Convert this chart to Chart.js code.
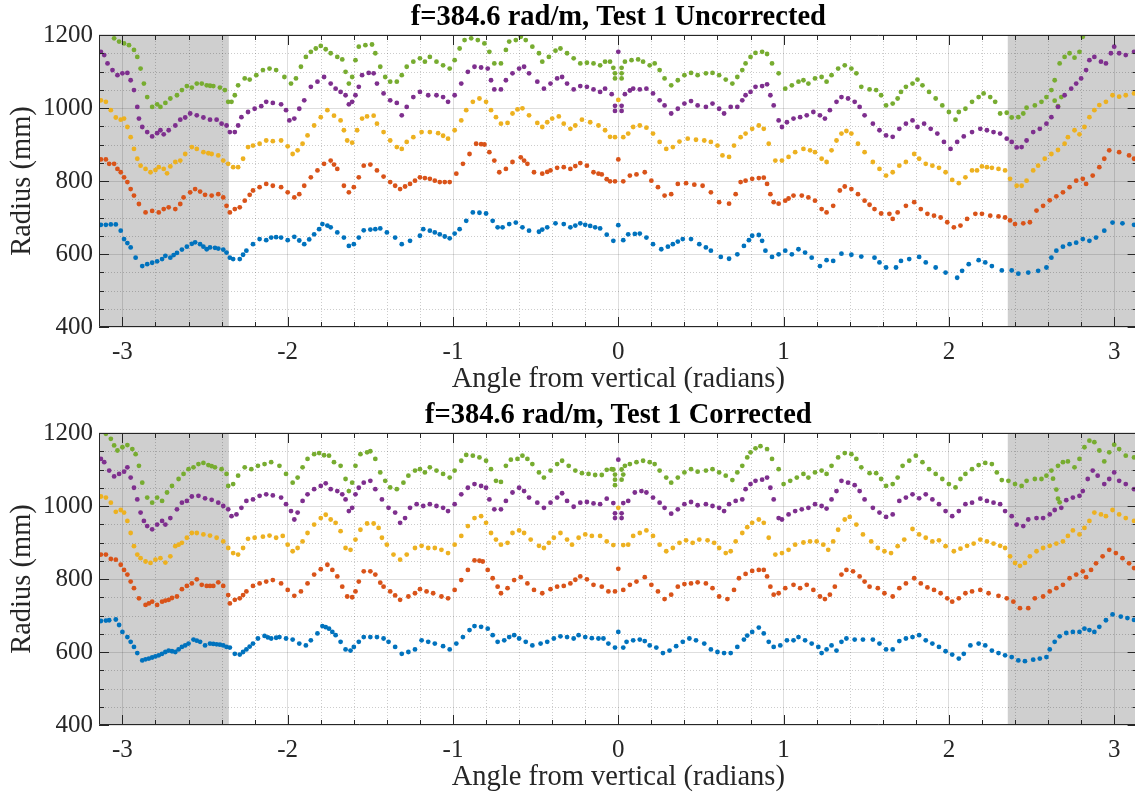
<!DOCTYPE html>
<html>
<head>
<meta charset="utf-8">
<script src="https://cdn.jsdelivr.net/npm/chart.js@4.4.1/dist/chart.umd.min.js"></script>
<style>
  html, body { margin: 0; background: #fff; overflow: hidden; width: 1135px; height: 796px; }
  .panel { position: absolute; left: 0; width: 1140px; height: 398px; }
</style>
</head>
<body>
<div class="panel" style="top:0"><canvas id="upper"></canvas></div>
<div class="panel" style="top:398px"><canvas id="lower"></canvas></div>
<script>
// angle (rad), radius (mm) pairs
const upperBlue = [[-3.13,680],[-3.10,680],[-3.07,681],[-3.04,681],[-3.01,664],[-2.99,641],[-2.97,630],[-2.95,618],[-2.92,590],[-2.88,567],[-2.85,572],[-2.82,576],[-2.79,580],[-2.76,586],[-2.74,595],[-2.71,590],[-2.69,597],[-2.67,603],[-2.64,612],[-2.61,620],[-2.58,628],[-2.56,632],[-2.53,627],[-2.51,620],[-2.49,613],[-2.47,618],[-2.44,617],[-2.42,615],[-2.39,612],[-2.37,604],[-2.35,590],[-2.33,586],[-2.29,586],[-2.27,598],[-2.25,609],[-2.21,627],[-2.17,641],[-2.13,638],[-2.10,645],[-2.07,646],[-2.04,645],[-2.00,638],[-1.96,647],[-1.93,637],[-1.90,627],[-1.87,640],[-1.84,654],[-1.81,668],[-1.79,682],[-1.76,678],[-1.74,673],[-1.70,659],[-1.66,645],[-1.63,622],[-1.60,627],[-1.57,645],[-1.54,665],[-1.50,667],[-1.47,668],[-1.44,670],[-1.40,659],[-1.35,645],[-1.31,627],[-1.26,636],[-1.20,650],[-1.18,668],[-1.14,664],[-1.11,659],[-1.08,654],[-1.05,648],[-1.02,643],[-0.99,656],[-0.96,668],[-0.92,691],[-0.88,714],[-0.84,713],[-0.80,711],[-0.76,691],[-0.73,673],[-0.70,673],[-0.66,682],[-0.62,686],[-0.58,673],[-0.54,664],[-0.48,661],[-0.46,667],[-0.43,673],[-0.38,684],[-0.33,682],[-0.29,673],[-0.26,678],[-0.23,684],[-0.20,680],[-0.17,677],[-0.14,673],[-0.11,670],[-0.07,653],[-0.03,636],[0,679],[0.03,638],[0.06,654],[0.10,655],[0.13,656],[0.17,645],[0.21,627],[0.26,613],[0.30,620],[0.33,627],[0.36,634],[0.39,641],[0.44,641],[0.49,627],[0.53,618],[0.56,609],[0.62,592],[0.67,587],[0.72,599],[0.76,622],[0.79,638],[0.81,650],[0.85,652],[0.87,636],[0.89,609],[0.93,592],[0.97,599],[1.01,609],[1.05,599],[1.09,613],[1.13,604],[1.17,590],[1.22,567],[1.26,583],[1.30,581],[1.35,601],[1.41,598],[1.47,593],[1.55,590],[1.58,577],[1.62,563],[1.68,563],[1.71,581],[1.76,586],[1.82,592],[1.86,577],[1.92,563],[1.98,549],[2.05,535],[2.08,554],[2.12,572],[2.18,583],[2.22,577],[2.26,567],[2.32,555],[2.38,555],[2.42,546],[2.48,549],[2.54,554],[2.59,563],[2.62,590],[2.65,609],[2.69,620],[2.73,627],[2.77,631],[2.81,641],[2.85,636],[2.89,645],[2.94,664],[2.99,686],[3.05,684],[3.12,680]];
const upperRed = [[-3.13,859],[-3.10,859],[-3.08,847],[-3.05,847],[-3.03,833],[-3.01,824],[-2.99,810],[-2.97,797],[-2.95,778],[-2.93,760],[-2.90,737],[-2.86,714],[-2.82,718],[-2.78,714],[-2.75,723],[-2.72,728],[-2.68,723],[-2.65,737],[-2.63,755],[-2.59,769],[-2.56,778],[-2.53,771],[-2.50,762],[-2.46,760],[-2.42,764],[-2.39,755],[-2.37,732],[-2.35,714],[-2.32,723],[-2.29,728],[-2.26,746],[-2.23,762],[-2.21,774],[-2.17,783],[-2.13,792],[-2.09,787],[-2.04,783],[-2.00,769],[-1.96,755],[-1.93,764],[-1.90,787],[-1.86,810],[-1.82,829],[-1.78,847],[-1.74,856],[-1.72,845],[-1.70,833],[-1.66,787],[-1.63,769],[-1.60,783],[-1.57,810],[-1.54,842],[-1.50,845],[-1.46,829],[-1.42,812],[-1.38,797],[-1.35,787],[-1.32,778],[-1.29,785],[-1.26,792],[-1.23,801],[-1.20,810],[-1.17,808],[-1.14,806],[-1.11,801],[-1.08,797],[-1.05,797],[-1.02,797],[-0.98,820],[-0.94,847],[-0.90,874],[-0.86,902],[-0.83,901],[-0.81,900],[-0.78,879],[-0.75,856],[-0.72,824],[-0.68,833],[-0.64,852],[-0.59,865],[-0.57,856],[-0.55,847],[-0.51,824],[-0.46,820],[-0.43,825],[-0.41,829],[-0.37,836],[-0.33,838],[-0.29,833],[-0.26,841],[-0.23,849],[-0.19,842],[-0.15,824],[-0.12,820],[-0.10,818],[-0.07,805],[-0.05,799],[-0.02,799],[0,859],[0.03,799],[0.07,815],[0.11,818],[0.16,824],[0.20,801],[0.24,783],[0.28,760],[0.32,764],[0.36,792],[0.41,794],[0.46,790],[0.51,787],[0.56,769],[0.61,742],[0.67,738],[0.71,764],[0.74,797],[0.77,801],[0.81,806],[0.85,808],[0.88,809],[0.90,792],[0.92,764],[0.94,742],[0.97,738],[1.01,746],[1.03,752],[1.06,760],[1.11,760],[1.15,755],[1.19,746],[1.23,723],[1.26,714],[1.30,732],[1.34,774],[1.37,785],[1.41,778],[1.45,764],[1.49,746],[1.52,735],[1.55,723],[1.59,711],[1.64,710],[1.66,696],[1.69,714],[1.74,732],[1.79,742],[1.83,723],[1.87,710],[1.91,705],[1.95,700],[1.99,687],[2.03,673],[2.07,678],[2.11,696],[2.16,710],[2.20,710],[2.25,705],[2.30,703],[2.34,700],[2.37,692],[2.40,682],[2.45,684],[2.49,687],[2.53,719],[2.57,732],[2.61,747],[2.65,758],[2.69,769],[2.73,783],[2.77,801],[2.81,806],[2.83,792],[2.87,815],[2.91,838],[2.94,861],[2.97,884],[3.03,879],[3.09,870],[3.12,861]];
const upperYellow = [[-3.13,1021],[-3.10,1017],[-3.07,994],[-3.04,974],[-3.01,968],[-2.99,971],[-2.97,948],[-2.95,920],[-2.93,888],[-2.91,861],[-2.89,842],[-2.86,833],[-2.83,824],[-2.80,830],[-2.78,838],[-2.75,833],[-2.73,821],[-2.71,840],[-2.68,852],[-2.65,856],[-2.62,874],[-2.58,893],[-2.55,888],[-2.51,879],[-2.48,876],[-2.46,874],[-2.42,870],[-2.39,856],[-2.36,847],[-2.33,838],[-2.30,838],[-2.27,861],[-2.24,893],[-2.21,897],[-2.17,902],[-2.13,911],[-2.09,909],[-2.04,911],[-2.00,895],[-1.97,874],[-1.94,884],[-1.91,902],[-1.88,925],[-1.84,952],[-1.80,975],[-1.76,994],[-1.72,979],[-1.68,966],[-1.66,939],[-1.64,911],[-1.61,905],[-1.58,939],[-1.55,971],[-1.52,977],[-1.48,979],[-1.46,957],[-1.42,934],[-1.38,911],[-1.34,893],[-1.31,888],[-1.28,907],[-1.24,920],[-1.19,934],[-1.14,934],[-1.09,931],[-1.06,924],[-1.03,916],[-0.99,939],[-0.95,966],[-0.92,994],[-0.88,1017],[-0.84,1026],[-0.80,1017],[-0.77,994],[-0.74,975],[-0.71,957],[-0.67,959],[-0.64,985],[-0.61,996],[-0.58,999],[-0.54,980],[-0.49,959],[-0.46,948],[-0.43,961],[-0.40,971],[-0.36,977],[-0.33,957],[-0.29,943],[-0.26,952],[-0.22,968],[-0.17,961],[-0.12,952],[-0.08,939],[-0.05,921],[-0.02,920],[0,1022],[0.03,920],[0.06,930],[0.09,948],[0.13,952],[0.17,946],[0.21,930],[0.25,907],[0.29,888],[0.33,893],[0.37,908],[0.42,916],[0.47,913],[0.52,911],[0.56,907],[0.60,897],[0.63,870],[0.67,866],[0.70,897],[0.74,920],[0.77,930],[0.81,943],[0.85,952],[0.88,943],[0.91,902],[0.95,856],[0.99,856],[1.03,866],[1.07,879],[1.12,888],[1.16,884],[1.19,879],[1.23,861],[1.26,852],[1.29,884],[1.32,911],[1.35,930],[1.38,937],[1.41,930],[1.45,902],[1.49,879],[1.54,852],[1.58,833],[1.62,815],[1.66,824],[1.70,842],[1.74,852],[1.79,874],[1.82,861],[1.86,847],[1.90,842],[1.94,836],[1.98,824],[2.02,803],[2.06,794],[2.10,810],[2.14,829],[2.17,829],[2.20,840],[2.23,838],[2.26,836],[2.30,833],[2.34,829],[2.37,806],[2.41,787],[2.44,787],[2.47,801],[2.51,829],[2.54,842],[2.58,861],[2.62,874],[2.66,885],[2.70,902],[2.72,920],[2.76,939],[2.79,928],[2.82,948],[2.85,975],[2.88,994],[2.91,1008],[2.95,1017],[2.99,1035],[3.03,1031],[3.07,1035],[3.12,1040]];
const upperPurple = [[-3.13,1154],[-3.11,1145],[-3.09,1122],[-3.06,1104],[-3.03,1090],[-3.00,1095],[-2.97,1096],[-2.95,1076],[-2.93,1049],[-2.91,1003],[-2.90,971],[-2.88,948],[-2.85,934],[-2.82,922],[-2.79,931],[-2.77,939],[-2.75,928],[-2.72,939],[-2.68,952],[-2.65,968],[-2.62,974],[-2.59,985],[-2.55,980],[-2.51,974],[-2.47,968],[-2.43,968],[-2.40,957],[-2.37,952],[-2.35,934],[-2.32,934],[-2.30,952],[-2.28,975],[-2.24,989],[-2.20,998],[-2.16,1005],[-2.13,1017],[-2.09,1014],[-2.04,1010],[-2.01,994],[-1.99,966],[-1.96,971],[-1.93,998],[-1.90,1021],[-1.86,1058],[-1.82,1072],[-1.78,1085],[-1.74,1067],[-1.71,1053],[-1.68,1044],[-1.65,1035],[-1.63,1010],[-1.61,1017],[-1.59,1035],[-1.57,1058],[-1.55,1090],[-1.51,1096],[-1.48,1095],[-1.46,1067],[-1.42,1040],[-1.38,1021],[-1.34,1014],[-1.31,980],[-1.28,1003],[-1.24,1030],[-1.20,1044],[-1.15,1035],[-1.10,1035],[-1.06,1030],[-1.03,1017],[-0.99,1035],[-0.95,1067],[-0.91,1099],[-0.87,1113],[-0.83,1111],[-0.79,1108],[-0.77,1076],[-0.75,1051],[-0.71,1051],[-0.68,1076],[-0.64,1095],[-0.60,1108],[-0.57,1113],[-0.54,1095],[-0.49,1072],[-0.45,1053],[-0.41,1067],[-0.37,1081],[-0.34,1085],[-0.31,1067],[-0.27,1051],[-0.23,1060],[-0.19,1058],[-0.15,1051],[-0.11,1044],[-0.08,1053],[-0.04,1038],[-0.02,1006],[-0.02,992],[0,1154],[0.02,1006],[0.02,992],[0.04,1038],[0.07,1048],[0.09,1053],[0.13,1051],[0.17,1053],[0.21,1040],[0.25,1021],[0.28,1007],[0.32,985],[0.36,998],[0.40,1012],[0.44,1019],[0.48,1007],[0.53,1003],[0.57,1012],[0.61,998],[0.64,985],[0.68,1003],[0.72,1003],[0.75,1021],[0.77,1035],[0.80,1044],[0.83,1058],[0.87,1060],[0.90,1065],[0.92,1035],[0.94,1007],[0.97,966],[0.99,948],[1.02,961],[1.06,971],[1.10,975],[1.14,980],[1.18,989],[1.22,980],[1.25,971],[1.28,994],[1.32,1017],[1.35,1030],[1.39,1026],[1.43,1017],[1.46,1003],[1.49,980],[1.54,957],[1.58,939],[1.62,925],[1.66,921],[1.70,943],[1.74,957],[1.78,966],[1.81,948],[1.85,957],[1.89,943],[1.93,930],[1.97,907],[2.01,888],[2.05,907],[2.09,922],[2.14,934],[2.19,943],[2.23,939],[2.27,934],[2.31,930],[2.35,916],[2.38,907],[2.41,892],[2.44,893],[2.47,911],[2.51,934],[2.55,943],[2.59,957],[2.62,975],[2.66,1003],[2.70,1035],[2.74,1053],[2.77,1067],[2.80,1081],[2.83,1104],[2.85,1131],[2.88,1140],[2.92,1127],[2.95,1122],[2.98,1150],[3.00,1168],[3.03,1150],[3.07,1145],[3.12,1154]];
const upperGreen = [[-3.05,1191],[-3.02,1182],[-2.99,1177],[-2.96,1172],[-2.93,1159],[-2.91,1140],[-2.89,1108],[-2.87,1067],[-2.85,1030],[-2.82,1003],[-2.79,1010],[-2.77,1003],[-2.74,1014],[-2.71,1026],[-2.67,1035],[-2.64,1049],[-2.61,1060],[-2.58,1056],[-2.55,1067],[-2.52,1067],[-2.49,1062],[-2.47,1061],[-2.45,1060],[-2.41,1056],[-2.38,1049],[-2.36,1017],[-2.34,1017],[-2.32,1035],[-2.30,1062],[-2.26,1081],[-2.23,1078],[-2.19,1090],[-2.15,1104],[-2.11,1108],[-2.07,1104],[-2.02,1085],[-1.98,1067],[-1.95,1081],[-1.92,1113],[-1.89,1140],[-1.86,1154],[-1.83,1163],[-1.80,1170],[-1.77,1161],[-1.74,1150],[-1.70,1140],[-1.67,1133],[-1.65,1099],[-1.63,1067],[-1.61,1085],[-1.59,1131],[-1.57,1168],[-1.53,1172],[-1.49,1174],[-1.47,1150],[-1.44,1113],[-1.41,1085],[-1.38,1072],[-1.34,1072],[-1.31,1090],[-1.28,1113],[-1.24,1127],[-1.20,1136],[-1.17,1127],[-1.14,1140],[-1.10,1127],[-1.06,1117],[-1.02,1108],[-0.99,1131],[-0.96,1163],[-0.93,1186],[-0.89,1191],[-0.85,1186],[-0.81,1177],[-0.78,1154],[-0.75,1122],[-0.71,1122],[-0.68,1159],[-0.66,1182],[-0.62,1186],[-0.59,1195],[-0.56,1186],[-0.52,1168],[-0.48,1150],[-0.46,1127],[-0.42,1140],[-0.38,1157],[-0.35,1163],[-0.31,1150],[-0.27,1136],[-0.23,1122],[-0.19,1124],[-0.15,1122],[-0.11,1117],[-0.08,1127],[-0.05,1127],[-0.03,1110],[-0.02,1095],[-0.02,1081],[0.02,1110],[0.02,1095],[0.02,1081],[0.04,1127],[0.08,1131],[0.12,1133],[0.15,1127],[0.19,1117],[0.22,1122],[0.25,1104],[0.28,1081],[0.32,1062],[0.36,1076],[0.40,1090],[0.44,1096],[0.48,1090],[0.53,1095],[0.57,1096],[0.61,1090],[0.65,1078],[0.69,1067],[0.72,1085],[0.75,1104],[0.77,1122],[0.80,1140],[0.83,1151],[0.87,1154],[0.90,1148],[0.93,1122],[0.97,1095],[1.01,1053],[1.05,1062],[1.09,1072],[1.12,1076],[1.15,1067],[1.19,1081],[1.23,1085],[1.26,1072],[1.29,1090],[1.33,1108],[1.37,1117],[1.41,1108],[1.44,1095],[1.47,1058],[1.52,1051],[1.56,1049],[1.59,1035],[1.62,1007],[1.66,1012],[1.69,1026],[1.71,1044],[1.74,1058],[1.78,1067],[1.81,1078],[1.84,1062],[1.88,1044],[1.92,1026],[1.96,1007],[2.00,989],[2.04,968],[2.06,989],[2.10,998],[2.14,1017],[2.18,1030],[2.21,1040],[2.25,1030],[2.28,1017],[2.31,985],[2.35,987],[2.38,974],[2.42,975],[2.45,985],[2.47,1001],[2.52,1007],[2.56,1017],[2.59,1030],[2.62,1049],[2.64,1020],[2.66,1005],[2.68,1030],[2.64,1076],[2.67,1122],[2.70,1140],[2.73,1150],[2.76,1138],[2.79,1154],[2.81,1195]];

const lowerBlue = [[-3.13,685],[-3.10,686],[-3.08,687],[-3.04,689],[-3.02,674],[-3.00,655],[-2.97,641],[-2.95,628],[-2.93,614],[-2.91,597],[-2.88,577],[-2.86,580],[-2.84,582],[-2.82,585],[-2.80,588],[-2.78,591],[-2.76,595],[-2.74,600],[-2.72,604],[-2.70,602],[-2.68,600],[-2.66,607],[-2.64,614],[-2.62,618],[-2.60,623],[-2.57,634],[-2.55,631],[-2.53,628],[-2.50,618],[-2.47,623],[-2.45,622],[-2.43,621],[-2.41,620],[-2.39,618],[-2.37,614],[-2.35,612],[-2.32,595],[-2.29,593],[-2.27,600],[-2.25,607],[-2.23,615],[-2.21,623],[-2.18,637],[-2.14,644],[-2.12,640],[-2.10,637],[-2.07,639],[-2.05,641],[-2.01,637],[-1.97,634],[-1.93,623],[-1.89,618],[-1.86,632],[-1.82,651],[-1.79,671],[-1.77,668],[-1.75,664],[-1.73,655],[-1.71,646],[-1.68,628],[-1.65,607],[-1.62,604],[-1.60,614],[-1.57,628],[-1.54,641],[-1.50,641],[-1.46,641],[-1.42,637],[-1.39,628],[-1.35,614],[-1.31,595],[-1.27,600],[-1.23,607],[-1.19,632],[-1.15,628],[-1.11,623],[-1.06,616],[-1.02,607],[-0.98,623],[-0.94,641],[-0.90,660],[-0.87,671],[-0.83,669],[-0.79,664],[-0.76,646],[-0.73,628],[-0.69,632],[-0.66,641],[-0.63,646],[-0.60,637],[-0.56,628],[-0.52,618],[-0.47,623],[-0.43,628],[-0.39,637],[-0.35,643],[-0.31,641],[-0.27,637],[-0.24,646],[-0.20,641],[-0.16,638],[-0.12,637],[-0.09,637],[-0.06,623],[-0.02,612],[0,655],[0.03,612],[0.05,628],[0.09,632],[0.13,634],[0.16,630],[0.19,618],[0.23,612],[0.27,597],[0.31,604],[0.35,616],[0.39,628],[0.43,637],[0.47,632],[0.52,623],[0.56,607],[0.60,600],[0.64,597],[0.68,597],[0.72,614],[0.76,634],[0.78,645],[0.81,655],[0.85,667],[0.88,651],[0.91,628],[0.94,614],[0.98,618],[1.02,632],[1.06,632],[1.09,641],[1.13,632],[1.17,623],[1.21,614],[1.23,597],[1.26,607],[1.29,618],[1.32,604],[1.35,628],[1.38,637],[1.43,634],[1.48,634],[1.54,634],[1.58,623],[1.62,607],[1.66,607],[1.70,630],[1.74,637],[1.78,641],[1.82,646],[1.86,632],[1.90,623],[1.94,614],[1.98,602],[2.02,593],[2.06,582],[2.09,595],[2.13,618],[2.18,623],[2.22,618],[2.26,604],[2.30,597],[2.34,591],[2.38,586],[2.42,577],[2.46,575],[2.51,579],[2.55,582],[2.59,586],[2.61,607],[2.64,628],[2.67,643],[2.71,652],[2.75,655],[2.79,655],[2.82,664],[2.85,660],[2.88,655],[2.91,669],[2.95,687],[2.99,703],[3.04,697],[3.08,693],[3.12,688]];
const lowerRed = [[-3.13,867],[-3.10,867],[-3.07,855],[-3.04,853],[-3.01,839],[-2.99,825],[-2.97,812],[-2.95,793],[-2.93,775],[-2.90,747],[-2.86,729],[-2.84,733],[-2.82,738],[-2.79,729],[-2.76,738],[-2.74,741],[-2.72,743],[-2.70,748],[-2.67,752],[-2.64,772],[-2.61,781],[-2.58,788],[-2.55,799],[-2.52,784],[-2.49,781],[-2.47,781],[-2.45,781],[-2.42,791],[-2.39,781],[-2.36,756],[-2.35,733],[-2.32,743],[-2.29,747],[-2.27,756],[-2.25,766],[-2.21,781],[-2.17,788],[-2.13,793],[-2.09,797],[-2.04,788],[-2.00,770],[-1.96,754],[-1.92,766],[-1.88,788],[-1.84,812],[-1.80,827],[-1.76,839],[-1.73,825],[-1.70,807],[-1.67,779],[-1.64,752],[-1.61,750],[-1.59,766],[-1.57,793],[-1.54,821],[-1.50,821],[-1.47,812],[-1.44,790],[-1.42,779],[-1.38,766],[-1.35,755],[-1.32,743],[-1.27,752],[-1.23,761],[-1.20,772],[-1.16,766],[-1.12,761],[-1.07,752],[-1.03,747],[-0.99,770],[-0.95,797],[-0.91,825],[-0.87,851],[-0.84,850],[-0.82,848],[-0.79,825],[-0.76,802],[-0.73,779],[-0.71,761],[-0.67,775],[-0.63,797],[-0.59,805],[-0.55,788],[-0.51,770],[-0.46,761],[-0.41,772],[-0.37,779],[-0.33,781],[-0.29,788],[-0.26,798],[-0.23,807],[-0.19,799],[-0.15,784],[-0.10,779],[-0.06,766],[-0.02,766],[0,828],[0.03,770],[0.07,784],[0.11,793],[0.16,805],[0.20,784],[0.24,766],[0.28,745],[0.32,757],[0.36,779],[0.40,786],[0.44,788],[0.48,791],[0.53,788],[0.57,775],[0.61,752],[0.66,745],[0.70,770],[0.73,802],[0.77,814],[0.81,822],[0.85,825],[0.88,825],[0.90,807],[0.92,779],[0.94,757],[0.97,761],[1.01,775],[1.06,784],[1.10,775],[1.14,784],[1.18,770],[1.22,752],[1.25,745],[1.28,757],[1.31,779],[1.35,812],[1.38,825],[1.42,821],[1.46,807],[1.49,793],[1.52,779],[1.57,775],[1.61,761],[1.66,752],[1.70,775],[1.74,788],[1.79,802],[1.83,788],[1.87,777],[1.91,770],[1.95,761],[1.99,747],[2.02,738],[2.06,747],[2.10,761],[2.14,766],[2.19,770],[2.24,761],[2.30,754],[2.35,747],[2.39,738],[2.43,720],[2.48,720],[2.52,747],[2.57,752],[2.61,766],[2.65,775],[2.69,784],[2.73,802],[2.77,812],[2.81,821],[2.83,805],[2.86,825],[2.89,843],[2.93,862],[2.97,880],[3.01,871],[3.05,857],[3.09,843],[3.12,830]];
const lowerYellow = [[-3.13,1026],[-3.10,1023],[-3.07,1009],[-3.04,984],[-3.01,989],[-2.99,982],[-2.97,959],[-2.95,926],[-2.93,890],[-2.91,867],[-2.89,857],[-2.86,848],[-2.83,844],[-2.80,853],[-2.77,857],[-2.74,845],[-2.71,862],[-2.68,890],[-2.66,894],[-2.64,899],[-2.61,913],[-2.58,926],[-2.55,926],[-2.51,922],[-2.47,919],[-2.43,913],[-2.39,903],[-2.36,885],[-2.33,871],[-2.30,867],[-2.27,885],[-2.24,910],[-2.20,913],[-2.15,916],[-2.11,919],[-2.07,913],[-2.03,918],[-2.00,894],[-1.97,876],[-1.94,885],[-1.91,903],[-1.88,926],[-1.84,949],[-1.80,967],[-1.77,976],[-1.74,963],[-1.71,954],[-1.68,931],[-1.65,885],[-1.62,880],[-1.59,908],[-1.56,935],[-1.52,952],[-1.48,952],[-1.45,940],[-1.43,913],[-1.40,894],[-1.36,867],[-1.32,853],[-1.28,867],[-1.23,885],[-1.19,891],[-1.15,885],[-1.11,885],[-1.07,880],[-1.03,871],[-0.99,894],[-0.95,918],[-0.91,945],[-0.87,967],[-0.83,972],[-0.80,954],[-0.77,926],[-0.74,908],[-0.71,894],[-0.67,899],[-0.64,926],[-0.60,933],[-0.57,926],[-0.53,908],[-0.48,891],[-0.45,885],[-0.42,899],[-0.39,913],[-0.35,926],[-0.31,908],[-0.28,894],[-0.24,913],[-0.20,922],[-0.16,918],[-0.11,918],[-0.07,903],[-0.03,893],[0,995],[0.03,893],[0.06,894],[0.09,918],[0.13,926],[0.17,933],[0.21,918],[0.25,894],[0.29,876],[0.33,885],[0.37,899],[0.41,906],[0.45,899],[0.49,908],[0.54,906],[0.58,899],[0.61,885],[0.65,871],[0.68,876],[0.71,903],[0.75,926],[0.78,942],[0.81,954],[0.85,963],[0.88,954],[0.91,913],[0.95,867],[0.99,871],[1.03,880],[1.07,894],[1.12,900],[1.16,903],[1.20,903],[1.24,894],[1.27,880],[1.30,903],[1.33,935],[1.37,963],[1.40,970],[1.44,949],[1.48,922],[1.53,903],[1.57,885],[1.61,876],[1.65,871],[1.69,890],[1.73,908],[1.78,937],[1.82,922],[1.86,913],[1.90,903],[1.94,906],[1.98,890],[2.03,876],[2.07,883],[2.11,891],[2.15,897],[2.19,908],[2.23,903],[2.27,897],[2.31,891],[2.34,885],[2.37,862],[2.40,844],[2.43,836],[2.46,844],[2.49,862],[2.53,876],[2.57,885],[2.61,891],[2.65,897],[2.69,903],[2.72,918],[2.75,933],[2.79,922],[2.82,940],[2.85,959],[2.88,982],[2.92,977],[2.95,972],[2.99,989],[3.03,977],[3.07,967],[3.12,959]];
const lowerPurple = [[-3.13,1129],[-3.11,1120],[-3.08,1097],[-3.05,1081],[-3.02,1088],[-2.99,1094],[-2.97,1106],[-2.95,1078],[-2.93,1050],[-2.91,1018],[-2.89,982],[-2.87,959],[-2.85,945],[-2.82,936],[-2.79,949],[-2.76,959],[-2.74,949],[-2.71,967],[-2.67,991],[-2.64,1009],[-2.61,1014],[-2.58,1026],[-2.54,1028],[-2.50,1021],[-2.46,1017],[-2.42,1009],[-2.39,1000],[-2.36,991],[-2.34,972],[-2.31,977],[-2.28,995],[-2.25,1014],[-2.21,1018],[-2.17,1028],[-2.13,1032],[-2.09,1029],[-2.04,1023],[-2.01,1005],[-1.98,986],[-1.96,963],[-1.94,982],[-1.91,1014],[-1.88,1032],[-1.84,1046],[-1.80,1055],[-1.77,1062],[-1.74,1046],[-1.70,1041],[-1.67,1032],[-1.65,1018],[-1.63,986],[-1.61,995],[-1.59,1032],[-1.57,1050],[-1.54,1064],[-1.50,1069],[-1.47,1046],[-1.43,1018],[-1.39,995],[-1.35,982],[-1.32,954],[-1.29,967],[-1.26,995],[-1.22,1005],[-1.18,1000],[-1.14,1005],[-1.10,1000],[-1.06,995],[-1.03,986],[-0.99,1005],[-0.95,1032],[-0.91,1050],[-0.87,1060],[-0.83,1055],[-0.80,1050],[-0.78,1018],[-0.75,991],[-0.71,991],[-0.68,1014],[-0.64,1037],[-0.60,1050],[-0.57,1041],[-0.54,1023],[-0.49,1009],[-0.45,995],[-0.41,1009],[-0.37,1023],[-0.34,1035],[-0.31,1014],[-0.27,998],[-0.23,1009],[-0.19,1011],[-0.15,1007],[-0.11,1005],[-0.07,1020],[-0.03,1008],[-0.02,980],[-0.02,967],[0,1127],[0.02,980],[0.02,967],[0.03,1008],[0.06,1014],[0.10,1037],[0.14,1041],[0.17,1037],[0.21,1023],[0.25,1009],[0.28,995],[0.32,979],[0.36,991],[0.40,1005],[0.44,1011],[0.48,1002],[0.53,1005],[0.57,1000],[0.61,995],[0.64,986],[0.67,1005],[0.71,1014],[0.75,1018],[0.77,1046],[0.80,1060],[0.83,1069],[0.87,1072],[0.90,1078],[0.92,1050],[0.94,1018],[0.97,967],[0.99,963],[1.03,977],[1.07,986],[1.11,991],[1.15,995],[1.19,1005],[1.23,1000],[1.26,993],[1.29,1018],[1.32,1041],[1.35,1069],[1.39,1064],[1.43,1057],[1.46,1041],[1.49,1018],[1.54,995],[1.58,982],[1.62,970],[1.66,977],[1.70,1014],[1.74,1023],[1.78,1032],[1.82,1021],[1.86,1032],[1.90,1018],[1.94,1005],[1.98,986],[2.02,972],[2.06,986],[2.10,1005],[2.14,1009],[2.19,1020],[2.23,1014],[2.27,1009],[2.31,1005],[2.34,986],[2.38,972],[2.41,949],[2.45,945],[2.48,963],[2.53,967],[2.57,967],[2.61,977],[2.64,989],[2.68,995],[2.71,1016],[2.75,1023],[2.79,1028],[2.81,1041],[2.84,1074],[2.87,1097],[2.90,1083],[2.94,1060],[2.97,1074],[3.00,1092],[3.03,1069],[3.07,1060],[3.12,1046]];
const lowerGreen = [[-3.10,1198],[-3.07,1184],[-3.05,1166],[-3.03,1152],[-3.00,1161],[-2.97,1167],[-2.94,1156],[-2.92,1142],[-2.90,1110],[-2.88,1064],[-2.85,1023],[-2.82,1009],[-2.79,1023],[-2.76,1014],[-2.73,1037],[-2.70,1055],[-2.66,1074],[-2.63,1088],[-2.60,1101],[-2.57,1106],[-2.54,1115],[-2.51,1118],[-2.48,1112],[-2.46,1109],[-2.44,1106],[-2.40,1101],[-2.37,1088],[-2.36,1055],[-2.33,1060],[-2.30,1083],[-2.26,1106],[-2.22,1101],[-2.18,1110],[-2.14,1115],[-2.10,1120],[-2.05,1110],[-2.01,1088],[-1.97,1064],[-1.94,1078],[-1.91,1106],[-1.88,1129],[-1.84,1142],[-1.81,1145],[-1.78,1139],[-1.75,1138],[-1.72,1120],[-1.68,1110],[-1.65,1074],[-1.63,1041],[-1.61,1064],[-1.59,1110],[-1.56,1142],[-1.52,1147],[-1.50,1150],[-1.47,1129],[-1.44,1092],[-1.41,1069],[-1.38,1051],[-1.34,1046],[-1.30,1064],[-1.27,1083],[-1.23,1097],[-1.20,1101],[-1.17,1092],[-1.14,1106],[-1.10,1097],[-1.06,1088],[-1.02,1078],[-0.99,1097],[-0.95,1124],[-0.92,1140],[-0.88,1138],[-0.84,1133],[-0.80,1124],[-0.77,1101],[-0.74,1069],[-0.71,1066],[-0.68,1110],[-0.65,1127],[-0.61,1129],[-0.58,1138],[-0.55,1129],[-0.52,1115],[-0.48,1092],[-0.45,1078],[-0.41,1097],[-0.37,1115],[-0.34,1124],[-0.30,1110],[-0.26,1097],[-0.22,1090],[-0.18,1088],[-0.14,1085],[-0.10,1085],[-0.07,1099],[-0.04,1101],[-0.03,1100],[-0.02,1086],[-0.02,1072],[-0.02,1057],[0.02,1100],[0.03,1086],[0.02,1072],[0.04,1110],[0.07,1115],[0.11,1120],[0.15,1124],[0.19,1120],[0.22,1115],[0.25,1097],[0.29,1078],[0.32,1064],[0.36,1078],[0.40,1092],[0.44,1101],[0.48,1094],[0.53,1097],[0.57,1101],[0.61,1092],[0.65,1083],[0.69,1071],[0.72,1092],[0.75,1110],[0.78,1133],[0.80,1147],[0.83,1158],[0.86,1164],[0.90,1156],[0.93,1129],[0.97,1101],[1.00,1060],[1.04,1069],[1.08,1078],[1.12,1088],[1.15,1078],[1.19,1092],[1.23,1097],[1.26,1088],[1.29,1110],[1.33,1133],[1.37,1145],[1.41,1142],[1.44,1129],[1.47,1106],[1.52,1090],[1.56,1090],[1.59,1074],[1.62,1055],[1.66,1060],[1.69,1078],[1.72,1110],[1.76,1124],[1.80,1138],[1.84,1120],[1.88,1101],[1.92,1088],[1.96,1074],[2.00,1060],[2.04,1051],[2.07,1074],[2.10,1088],[2.14,1101],[2.18,1112],[2.22,1118],[2.26,1115],[2.29,1092],[2.32,1071],[2.36,1069],[2.40,1060],[2.44,1055],[2.47,1069],[2.52,1074],[2.56,1074],[2.59,1083],[2.62,1097],[2.63,1075],[2.65,1045],[2.66,1020],[2.67,1010],[2.66,1110],[2.69,1120],[2.72,1122],[2.76,1106],[2.79,1129],[2.82,1161],[2.85,1179],[2.88,1175],[2.91,1152],[2.94,1122],[2.97,1147],[3.00,1168],[3.03,1156],[3.07,1138],[3.12,1133]];

const seriesColors = ['#0072BD', '#D95319', '#EDB120', '#7E2F8E', '#77AC30'];
const xTicks = [-3, -2, -1, 0, 1, 2, 3];
const yTicks = [400, 600, 800, 1000, 1200];
const xMinorStep = 0.2;
const yMinorStep = 50;
const shadeBands = [[-Math.PI, -3 * Math.PI / 4], [3 * Math.PI / 4, Math.PI]];

const serif = '"Liberation Serif", "Times New Roman", Times, serif';
const axisGray = '#262626';

const matlabAxes = {
  id: 'matlabAxes',
  beforeDraw(chart) {
    const { ctx, chartArea: a, scales: { x, y } } = chart;
    ctx.save();
    ctx.fillStyle = '#fff';
    ctx.fillRect(0, 0, chart.width, chart.height);
    ctx.beginPath();
    ctx.rect(a.left, a.top, a.right - a.left, a.bottom - a.top);
    ctx.clip();
    ctx.fillStyle = '#cfcfcf';
    shadeBands.forEach(([b0, b1]) => {
      const p0 = x.getPixelForValue(b0), p1 = x.getPixelForValue(b1);
      ctx.fillRect(p0, a.top, p1 - p0, a.bottom - a.top);
    });
    // minor grid, dotted
    ctx.strokeStyle = 'rgba(0,0,0,0.2)';
    ctx.lineWidth = 1;
    ctx.setLineDash([1, 2]);
    ctx.beginPath();
    for (let v = -3; v <= 3.001; v += xMinorStep) {
      if (Math.abs(v - Math.round(v)) < 1e-6) continue;
      const px = Math.round(x.getPixelForValue(v)) + 0.5;
      ctx.moveTo(px, a.top); ctx.lineTo(px, a.bottom);
    }
    for (let v = 400; v <= 1200; v += yMinorStep) {
      if (v % 200 === 0) continue;
      const py = Math.round(y.getPixelForValue(v)) + 0.5;
      ctx.moveTo(a.left, py); ctx.lineTo(a.right, py);
    }
    ctx.stroke();
    ctx.restore();
  },
  afterDraw(chart) {
    const { ctx, chartArea: a, scales: { x, y } } = chart;
    ctx.save();
    ctx.strokeStyle = axisGray;
    ctx.lineWidth = 1;
    ctx.beginPath();
    xTicks.forEach(v => {
      const px = Math.round(x.getPixelForValue(v)) + 0.5;
      ctx.moveTo(px, a.bottom); ctx.lineTo(px, a.bottom - 10);
      ctx.moveTo(px, a.top); ctx.lineTo(px, a.top + 10);
    });
    yTicks.forEach(v => {
      const py = Math.round(y.getPixelForValue(v)) + 0.5;
      ctx.moveTo(a.left, py); ctx.lineTo(a.left + 10, py);
      ctx.moveTo(a.right, py); ctx.lineTo(a.right - 10, py);
    });
    for (let v = -3; v <= 3.001; v += xMinorStep) {
      if (Math.abs(v - Math.round(v)) < 1e-6) continue;
      const px = Math.round(x.getPixelForValue(v)) + 0.5;
      ctx.moveTo(px, a.bottom); ctx.lineTo(px, a.bottom - 5);
      ctx.moveTo(px, a.top); ctx.lineTo(px, a.top + 5);
    }
    for (let v = 450; v < 1200; v += yMinorStep) {
      if (v % 200 === 0) continue;
      const py = Math.round(y.getPixelForValue(v)) + 0.5;
      ctx.moveTo(a.left, py); ctx.lineTo(a.left + 5, py);
      ctx.moveTo(a.right, py); ctx.lineTo(a.right - 5, py);
    }
    ctx.stroke();
    // box
    ctx.beginPath();
    ctx.rect(Math.round(a.left) + 0.5, Math.round(a.top) + 0.5,
      Math.round(a.right - a.left), Math.round(a.bottom - a.top) - 1);
    ctx.stroke();
    ctx.restore();
  }
};

function makeChart(id, title, series) {
  return new Chart(document.getElementById(id), {
    type: 'scatter',
    data: {
      datasets: series.map((pts, i) => ({
        data: pts.map(([a, r]) => ({ x: a, y: r })),
        backgroundColor: seriesColors[i],
        borderColor: seriesColors[i],
        pointRadius: 2.4,
        pointBorderWidth: 0,
        pointHoverRadius: 2.4
      }))
    },
    options: {
      responsive: true,
      maintainAspectRatio: false,
      animation: false,
      devicePixelRatio: 1,
      layout: { padding: 0 },
      plugins: {
        legend: { display: false },
        tooltip: { enabled: false },
        title: {
          display: true,
          text: title,
          fullSize: false,
          color: '#000',
          font: { family: serif, size: 28.5, weight: 'bold', lineHeight: 1.2 },
          padding: { top: 0.5, bottom: 0.3 }
        }
      },
      scales: {
        x: {
          type: 'linear',
          min: -Math.PI,
          max: Math.PI,
          afterBuildTicks: s => { s.ticks = xTicks.map(v => ({ value: v })); },
          afterFit: s => { s.height = 71; s.paddingLeft = 0; s.paddingRight = 0; },
          ticks: {
            color: axisGray,
            padding: 10,
            maxRotation: 0,
            font: { family: serif, size: 25 },
            callback: v => String(v)
          },
          grid: { color: 'rgba(0,0,0,0.13)', drawTicks: false },
          border: { display: false },
          title: {
            display: true,
            text: 'Angle from vertical (radians)',
            color: axisGray,
            font: { family: serif, size: 28.5 },
            padding: { top: 0, bottom: 1 }
          }
        },
        y: {
          type: 'linear',
          min: 400,
          max: 1200,
          afterBuildTicks: s => { s.ticks = yTicks.map(v => ({ value: v })); },
          afterFit: s => { s.width = 99; },
          ticks: {
            color: axisGray,
            padding: 6,
            font: { family: serif, size: 25 },
            callback: v => String(v)
          },
          grid: { color: 'rgba(0,0,0,0.13)', drawTicks: false },
          border: { display: false },
          title: {
            display: true,
            text: 'Radius (mm)',
            color: axisGray,
            font: { family: serif, size: 28.5 },
            padding: { top: 5, bottom: 0 }
          }
        }
      }
    },
    plugins: [matlabAxes]
  });
}

makeChart('upper', 'f=384.6 rad/m, Test 1 Uncorrected',
  [upperBlue, upperRed, upperYellow, upperPurple, upperGreen]);
makeChart('lower', 'f=384.6 rad/m, Test 1 Corrected',
  [lowerBlue, lowerRed, lowerYellow, lowerPurple, lowerGreen]);
</script>
</body>
</html>
